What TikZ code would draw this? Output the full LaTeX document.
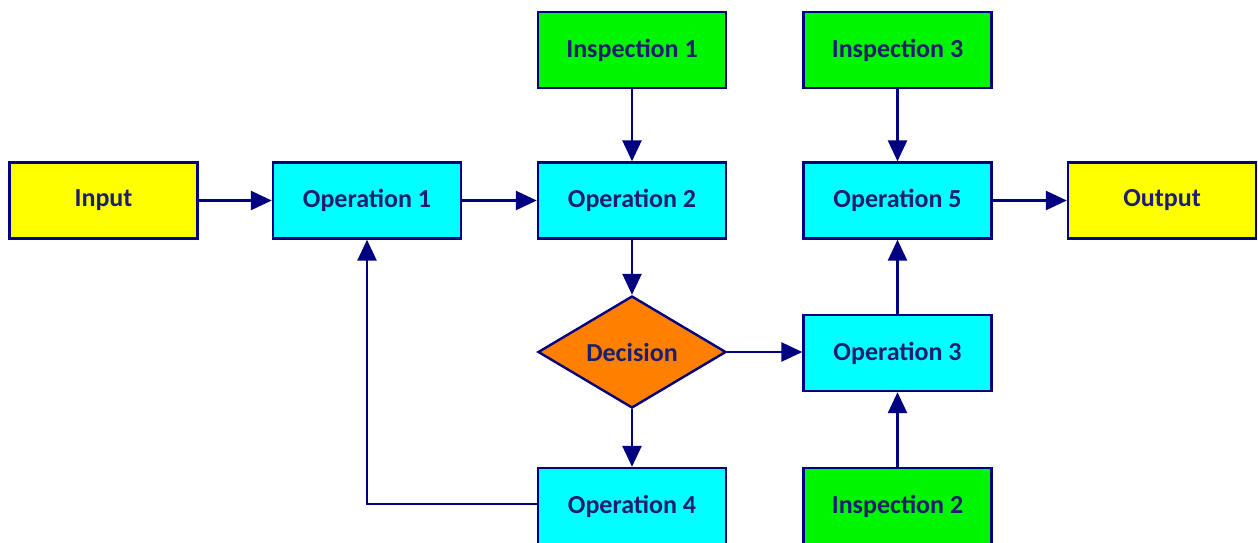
\documentclass[tikz,border=0pt]{standalone}
\usepackage{fontspec}
\setmainfont{Carlito}
\usetikzlibrary{shapes.geometric,arrows.meta}
\definecolor{navyb}{RGB}{0,0,128}
\definecolor{txt}{RGB}{30,30,110}
\definecolor{yel}{RGB}{255,255,0}
\definecolor{cyn}{RGB}{0,255,255}
\definecolor{grn}{RGB}{0,245,0}
\definecolor{org}{RGB}{255,128,0}
\begin{document}
\begin{tikzpicture}[x=1pt,y=-1pt,
  box/.style={draw=navyb,line width=2.4pt,minimum width=188pt,minimum height=76pt,inner sep=0pt,
    font=\fontsize{26}{30}\selectfont\bfseries,text=txt},
  inbox/.style={box,fill=yel},
  opbox/.style={box,fill=cyn},
  insbox/.style={box,fill=grn},
  decbox/.style={diamond,draw=navyb,line width=2.4pt,fill=org,minimum width=188pt,minimum height=112pt,
    inner sep=0pt,aspect=1.68,font=\fontsize{26}{30}\selectfont\bfseries,text=txt},
  conn/.style={draw=navyb,line width=2.6pt,-{Triangle[length=21pt,width=19pt]}}]
\useasboundingbox (0,0) rectangle (1258,542);
\node[inbox] (in) at (103.5,200.5) {Input};
\node[opbox] (op1) at (367,200.5) {Operation 1};
\node[opbox] (op2) at (632,200.5) {Operation 2};
\node[insbox] (ins1) at (632,50) {Inspection 1};
\node[insbox] (ins3) at (897.5,50) {Inspection 3};
\node[opbox] (op5) at (897.5,200.5) {Operation 5};
\node[inbox] (out) at (1162,200.5) {Output};
\node[decbox] (dec) at (632,352) {Decision};
\node[opbox] (op3) at (897.5,353) {Operation 3};
\node[opbox] (op4) at (632,506) {Operation 4};
\node[insbox] (ins2) at (897.5,506) {Inspection 2};
\draw[conn] (in) -- (op1);
\draw[conn] (op1) -- (op2);
\draw[conn] (ins1) -- (op2);
\draw[conn] (op2) -- (dec);
\draw[conn] (dec) -- (op4);
\draw[conn] (dec.east) -- (dec.east -| op3.west);
\draw[conn] (ins2) -- (op3);
\draw[conn] (op3) -- (op5);
\draw[conn] (ins3) -- (op5);
\draw[conn] (op5) -- (out);
\draw[conn] (op4.west |- 0,504) -| (op1.south);
\end{tikzpicture}
\end{document}
